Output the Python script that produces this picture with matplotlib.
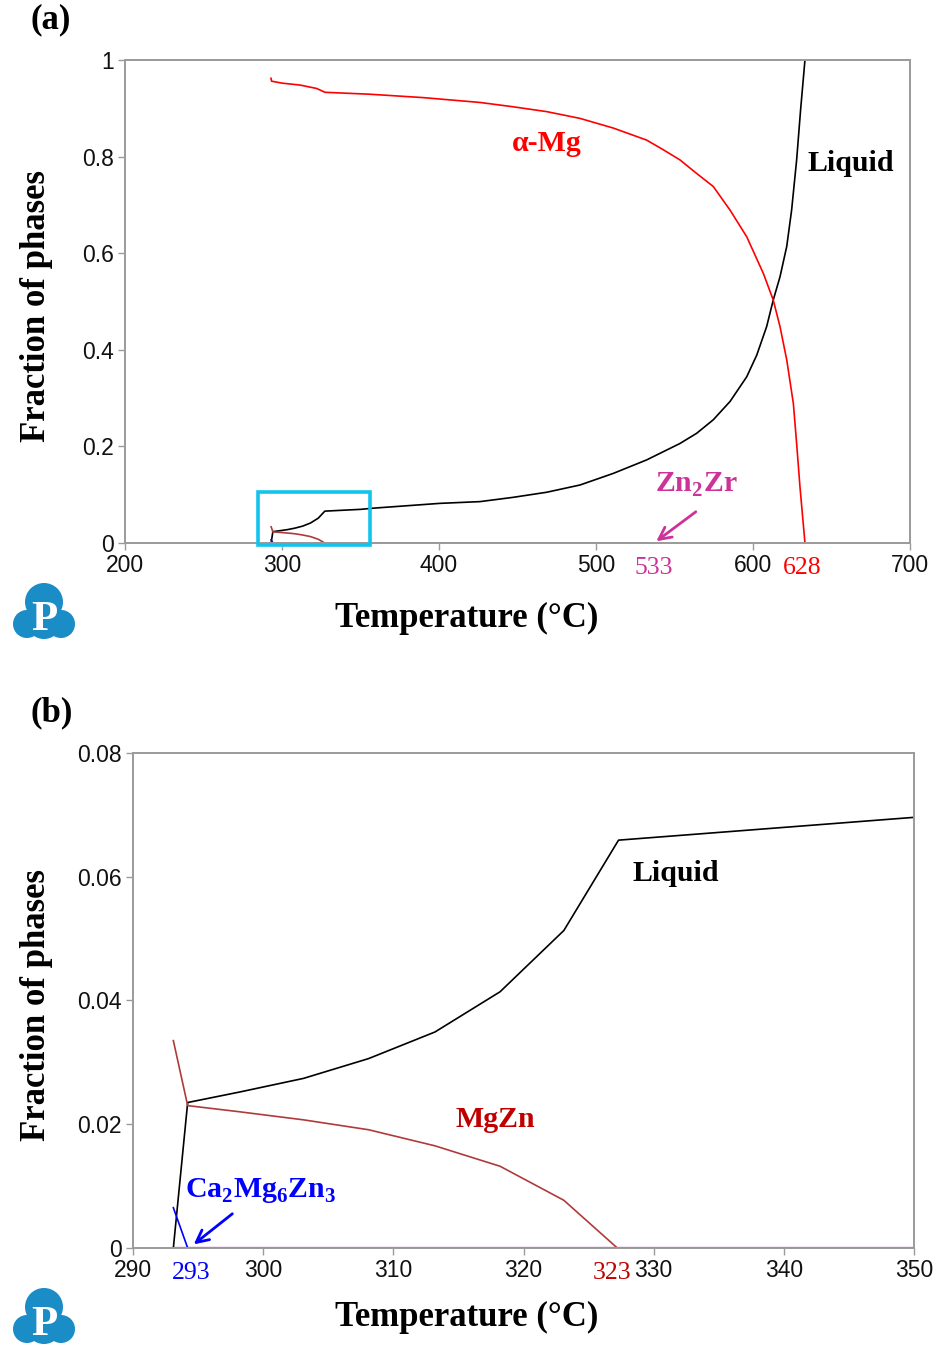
import matplotlib
matplotlib.use('Agg')
import matplotlib.pyplot as plt
from matplotlib.patches import Circle, Rectangle
from matplotlib.ticker import FuncFormatter

plt.rcParams['font.family'] = ['Liberation Sans', 'DejaVu Sans']
plt.rcParams['mathtext.fontset'] = 'custom'
plt.rcParams['mathtext.rm'] = 'Liberation Serif'
plt.rcParams['mathtext.bf'] = 'Liberation Serif:bold'

# phase fractions
liq_T = [293.1, 294.2, 298.2, 303.1, 308.1, 313.2, 318.2, 323.1, 327.3, 350.1, 358, 400.6,
         426.1, 447.3, 468.6, 489.8, 511.0, 532.3, 553.5, 564.1, 574.7, 585.4, 596.0,
         602.4, 608.7, 612.9, 617.2, 621.5, 624.6, 627.8, 630.3, 633.1]
liq_f = [0.0, 0.0235, 0.0252, 0.0274, 0.0306, 0.0349, 0.0414, 0.0513, 0.0659, 0.0696,
         0.072, 0.082, 0.0856, 0.0945, 0.105, 0.120, 0.144, 0.172, 0.206, 0.227, 0.255,
         0.293, 0.344, 0.389, 0.448, 0.503, 0.551, 0.614, 0.689, 0.793, 0.896, 1.0]

alpha_T = [293.0, 293.4, 300, 311.5, 322, 327.4, 356, 390, 426.1, 447.3, 468.6, 489.8,
           500.4, 511.0, 532.3, 542.9, 553.5, 564.1, 574.7, 585.4, 596.0, 606.6, 612.9,
           617.2, 621.5, 625.7, 627.8, 629.9, 633.1]
alpha_f = [0.962, 0.956, 0.952, 0.948, 0.941, 0.933, 0.929, 0.922, 0.912, 0.903, 0.893,
           0.879, 0.869, 0.859, 0.834, 0.814, 0.793, 0.765, 0.738, 0.689, 0.634, 0.558,
           0.503, 0.448, 0.379, 0.289, 0.206, 0.117, 0.0]

mgzn_T = [293.1, 294.2, 298.2, 303.1, 308.1, 313.2, 318.2, 323.1, 327.2]
mgzn_f = [0.0335, 0.0230, 0.0220, 0.0207, 0.0191, 0.0165, 0.0132, 0.0077, 0.0]

ca_T = [293.1, 294.2]
ca_f = [0.0065, 0.0]

zn2zr_T = [293.1, 533]
zn2zr_f = [0.0, 0.0]

SERIF = ['Liberation Serif', 'DejaVu Serif']
AX_GREY = '#9a9a9a'
MGZN_C = '#b03a3a'
ZN2ZR_C = '#cc3399'
PURPLE = '#7a2a7a'
LBL = 21.5


def style_axes(ax):
    for s in ax.spines.values():
        s.set_color(AX_GREY)
        s.set_linewidth(1.4)
    ax.tick_params(axis='both', direction='out', length=5, width=1, color=AX_GREY,
                   labelsize=16.5, labelcolor='#111111', pad=3)
    ax.yaxis.set_major_formatter(FuncFormatter(lambda v, p: '%g' % v))


def axis_labels(ax, xl, yl):
    ax.set_xlabel('Temperature (°C)', family=SERIF, fontsize=25, fontweight='bold')
    ax.set_ylabel('Fraction of phases', family=SERIF, fontsize=25, fontweight='bold')
    ax.xaxis.set_label_coords(*xl)
    ax.yaxis.set_label_coords(*yl)


def draw_logo(fig, x0, y0):
    # x0, y0: top-left corner in pixels
    lax = fig.add_axes([x0 / 934, 1 - (y0 + 70) / 1350, 75 / 934, 70 / 1350])
    lax.set_xlim(0, 75)
    lax.set_ylim(70, 0)
    lax.axis('off')
    c = '#1a8cc6'
    for cx, cy, r in [(37, 24, 19), (20, 46, 14), (54, 46, 14), (37, 43, 18)]:
        lax.add_patch(Circle((cx, cy), r, color=c, lw=0))
    lax.text(37, 42, 'P', color='white', fontsize=31, fontweight='bold',
             family=SERIF, ha='center', va='center')


fig = plt.figure(figsize=(9.34, 13.5), dpi=100)

# ---------------- (a) ----------------
ax1 = fig.add_axes([0.1338, 0.5978, 0.8405, 0.3578])
ax1.plot(zn2zr_T, zn2zr_f, color=PURPLE, lw=1.4)
ax1.plot(liq_T, liq_f, color='black', lw=1.2)
ax1.plot(alpha_T, alpha_f, color='red', lw=1.2)
ax1.plot(mgzn_T, mgzn_f, color=MGZN_C, lw=1.2)
ax1.plot(ca_T, ca_f, color='blue', lw=1.2)
ax1.set_xlim(200, 700)
ax1.set_ylim(0, 1)
ax1.set_xticks([200, 300, 400, 500, 600, 700])
ax1.set_yticks([0, 0.2, 0.4, 0.6, 0.8, 1])
style_axes(ax1)
ax1.add_patch(Rectangle((284.7, -0.004), 71.3, 0.11, fill=False, ec='#11c4ee', lw=2.6,
                        clip_on=False, zorder=5))
axis_labels(ax1, (0.4357, -0.122), (-0.092, 0.49))
ax1.text(468.8, 0.827, 'α-Mg', color='red', family=SERIF, fontsize=LBL, fontweight='bold',
         ha='center', va='center')
ax1.text(662.4, 0.785, 'Liquid', color='black', family=SERIF, fontsize=LBL,
         fontweight='bold', ha='center', va='center')
ax1.text(564, 0.12, 'Zn$_\\mathbf{2}$Zr', color=ZN2ZR_C, family=SERIF, fontsize=LBL,
         fontweight='bold', ha='center', va='center')
ax1.annotate('', xy=(537, 0.0), xytext=(565, 0.068),
             arrowprops=dict(arrowstyle='->', color=ZN2ZR_C, lw=2, mutation_scale=22))
ax1.text(536.5, -0.03, '533', color=ZN2ZR_C, family=SERIF, fontsize=18.5, ha='center',
         va='top')
ax1.text(631.2, -0.03, '628', color='red', family=SERIF, fontsize=18.5, ha='center',
         va='top')
fig.text(30 / 934, 1 - 20 / 1350, '(a)', family=SERIF, fontsize=25, fontweight='bold',
         va='center')
draw_logo(fig, 7, 578)

# ---------------- (b) ----------------
ax2 = fig.add_axes([0.1424, 0.0756, 0.8362, 0.3667])
ax2.plot([293.1, 350], [0.0, 0.0], color=PURPLE, lw=1.6)
ax2.plot(liq_T, liq_f, color='black', lw=1.2)
ax2.plot(mgzn_T, mgzn_f, color=MGZN_C, lw=1.2)
ax2.plot(ca_T, ca_f, color='blue', lw=1.2)
ax2.set_xlim(290, 350)
ax2.set_ylim(0, 0.08)
ax2.set_xticks([290, 300, 310, 320, 330, 340, 350])
ax2.set_yticks([0, 0.02, 0.04, 0.06, 0.08])
style_axes(ax2)
axis_labels(ax2, (0.4277, -0.107), (-0.103, 0.49))
ax2.text(331.7, 0.0605, 'Liquid', color='black', family=SERIF, fontsize=LBL,
         fontweight='bold', ha='center', va='center')
ax2.text(317.8, 0.0207, 'MgZn', color='#c00000', family=SERIF, fontsize=LBL,
         fontweight='bold', ha='center', va='center')
ax2.text(299.8, 0.0093, 'Ca$_\\mathbf{2}$Mg$_\\mathbf{6}$Zn$_\\mathbf{3}$', color='blue',
         family=SERIF, fontsize=LBL, fontweight='bold', ha='center', va='center')
ax2.annotate('', xy=(294.5, 0.0003), xytext=(297.8, 0.0058),
             arrowprops=dict(arrowstyle='->', color='blue', lw=2, mutation_scale=22))
ax2.text(294.5, -0.0022, '293', color='blue', family=SERIF, fontsize=18.5, ha='center',
         va='top')
ax2.text(326.8, -0.0022, '323', color='#c00000', family=SERIF, fontsize=18.5, ha='center',
         va='top')
fig.text(30 / 934, 1 - 713 / 1350, '(b)', family=SERIF, fontsize=25, fontweight='bold',
         va='center')
draw_logo(fig, 7, 1283)

fig.savefig('out.png', dpi=100)
